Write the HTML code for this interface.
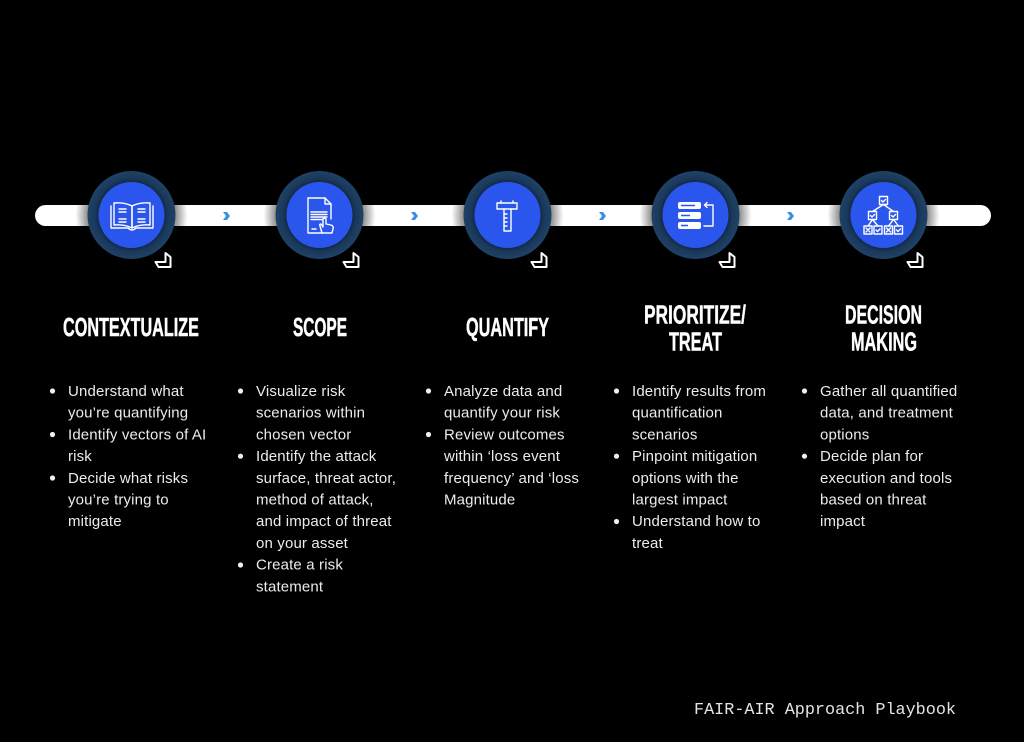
<!DOCTYPE html>
<html><head><meta charset="utf-8"><style>
html,body{margin:0;padding:0;background:#000;}
svg{display:block;}
.h{font-family:"Liberation Sans Narrow","Liberation Sans","DejaVu Sans Condensed",sans-serif;font-weight:bold;font-size:26px;fill:#fff;stroke:#fff;stroke-width:0.5;}
.b{font-family:"Liberation Sans","DejaVu Sans",sans-serif;font-size:15px;fill:#ececec;letter-spacing:0.15px;}
.f{font-family:"Liberation Mono","DejaVu Sans Mono",monospace;font-size:17px;fill:#e4e4e4;}
.ic{stroke:#fff;stroke-width:1.4;fill:none;stroke-linejoin:round;stroke-linecap:round;}
</style></head><body>
<svg width="1024" height="742" viewBox="0 0 1024 742" xmlns="http://www.w3.org/2000/svg">
<defs>
<radialGradient id="ring" cx="0.5" cy="0.5" r="0.5">
<stop offset="0.7" stop-color="#0e2139"/>
<stop offset="0.84" stop-color="#1a395b"/>
<stop offset="1" stop-color="#1f4267"/>
</radialGradient>
<radialGradient id="sh" cx="0.5" cy="0.5" r="0.5">
<stop offset="0.78" stop-color="#000" stop-opacity="0.45"/>
<stop offset="1" stop-color="#000" stop-opacity="0"/>
</radialGradient>
<g id="node">
<circle r="56" fill="url(#sh)"/>
<circle r="44" fill="url(#ring)"/>
<circle r="33" fill="#2b56ee"/>
<polygon points="34,38 39,42 39,52 27,52 24,47 34,47" fill="#000" stroke="#fff" stroke-width="2" stroke-linejoin="round"/>
</g>
<polygon id="chev" points="-3,-4 1,-4 4,0 1,4 -3,4 0,0" fill="#3d8fe2"/>
</defs>
<rect width="1024" height="742" fill="#000"/>
<rect x="35" y="205" width="956" height="21" rx="10.5" fill="#fff"/>
<use href="#chev" x="226" y="216"/>
<use href="#chev" x="414" y="216"/>
<use href="#chev" x="602" y="216"/>
<use href="#chev" x="790" y="216"/>
<use href="#node" x="131.5" y="215"/>
<use href="#node" x="319.5" y="215"/>
<use href="#node" x="507.5" y="215"/>
<use href="#node" x="695.5" y="215"/>
<use href="#node" x="883.5" y="215"/>

<!-- book -->
<g class="ic">
<path d="M111,206 L111,228 L128,228 Q132,232 136,228 L153,228 L153,206"/>
<path d="M114,203 L114,225 Q124,224 132,228 L132,206 Q124,202 114,203 Z"/>
<path d="M150,203 L150,225 Q140,224 132,228 L132,206 Q140,202 150,203 Z"/>
<path d="M119,209 L126,209 M119,212 L126,212 M119,219 L126,219 M119,222 L126,222"/>
<path d="M138,209 L145,209 M138,212 L145,212 M138,219 L145,219 M138,222 L145,222"/>
</g>
<!-- document -->
<g class="ic">
<path d="M308,198 L325,198 L331,204 L331,219 M322,233 L308,233 Z M308,198 L308,233"/>
<path d="M325,198 L325,204 L331,204"/>
<path d="M311,212 L327,212 M311,214.5 L327,214.5 M311,217 L327,217 M311,219.5 L322,219.5"/>
<path d="M312,229 L316,229"/>
<path d="M322,233 L320,226 Q319,224 321,224 L323,227 L323,219 Q325,217 326,219 L326,224 L331,225 Q334,226 333,229 L332,233 Z"/>
</g>
<!-- caliper -->
<g class="ic">
<path d="M497,203 L517,203 L517,209 L497,209 Z"/>
<path d="M501,201 L501,203 M513,201 L513,203"/>
<path d="M504,209 L504,231 L511,231 L511,209"/>
<path d="M504,214 L507,214 M504,218 L507,218 M504,222 L507,222 M504,226 L507,226"/>
</g>
<!-- list -->
<g>
<rect x="678" y="202" width="23" height="7" rx="2" fill="#fff"/>
<rect x="678" y="212" width="23" height="7" rx="2" fill="#fff"/>
<rect x="678" y="222" width="23" height="7" rx="2" fill="#fff"/>
<path d="M681,205.5 L695,205.5 M681,215.5 L690,215.5 M681,225.5 L688,225.5" stroke="#2b56ee" stroke-width="1.5"/>
<path class="ic" d="M705,205 L713,205 L713,226 L704,226"/>
<path class="ic" d="M707,202.5 L704.5,205 L707,207.5"/>
</g>
<!-- hierarchy -->
<g class="ic" stroke-width="1.2">
<rect x="879.5" y="196.5" width="8" height="8"/>
<rect x="868.5" y="211.5" width="8" height="8"/>
<rect x="889.5" y="211.5" width="8" height="8"/>
<rect x="864" y="226" width="8" height="8"/>
<rect x="874" y="226" width="8" height="8"/>
<rect x="884.5" y="226" width="8" height="8"/>
<rect x="894.5" y="226" width="8" height="8"/>
<path d="M883.5,204.5 L872.5,211.5 M883.5,204.5 L893.5,211.5 M872.5,219.5 L868,226 M872.5,219.5 L878,226 M893.5,219.5 L888.5,226 M893.5,219.5 L898.5,226"/>
<path d="M881.5,200.5 L883,202 L885.5,199.5 M870.5,215.5 L872,217 L874.5,214.5 M891.5,215.5 L893,217 L895.5,214.5 M876,230 L877.5,231.5 L880,229 M896.5,230 L898,231.5 L900.5,229"/>
<path d="M866,228 L870,232 M870,228 L866,232 M886.5,228 L890.5,232 M890.5,228 L886.5,232"/>
</g>

<!-- headings -->
<text class="h" x="63" y="336" textLength="136" lengthAdjust="spacingAndGlyphs">CONTEXTUALIZE</text>
<text class="h" x="293" y="336" textLength="54" lengthAdjust="spacingAndGlyphs">SCOPE</text>
<text class="h" x="466" y="336" textLength="83" lengthAdjust="spacingAndGlyphs">QUANTIFY</text>
<text class="h" x="644" y="323.5" textLength="102" lengthAdjust="spacingAndGlyphs">PRIORITIZE/</text>
<text class="h" x="669" y="350.5" textLength="53" lengthAdjust="spacingAndGlyphs">TREAT</text>
<text class="h" x="845" y="323.5" textLength="77" lengthAdjust="spacingAndGlyphs">DECISION</text>
<text class="h" x="851" y="350.5" textLength="66" lengthAdjust="spacingAndGlyphs">MAKING</text>

<!-- bullets -->
<g fill="#f0f0f0">
<circle cx="52.5" cy="391" r="2.6"/><circle cx="52.5" cy="434.5" r="2.6"/><circle cx="52.5" cy="478" r="2.6"/>
<circle cx="240.5" cy="391" r="2.6"/><circle cx="240.5" cy="456.2" r="2.6"/><circle cx="240.5" cy="565" r="2.6"/>
<circle cx="428.5" cy="391" r="2.6"/><circle cx="428.5" cy="434.5" r="2.6"/>
<circle cx="616.5" cy="391" r="2.6"/><circle cx="616.5" cy="456.2" r="2.6"/><circle cx="616.5" cy="521.5" r="2.6"/>
<circle cx="804.5" cy="391" r="2.6"/><circle cx="804.5" cy="456.2" r="2.6"/>
</g>

<g class="b">
<text x="68" y="396">Understand what</text>
<text x="68" y="417.7">you’re quantifying</text>
<text x="68" y="439.4">Identify vectors of AI</text>
<text x="68" y="461.1">risk</text>
<text x="68" y="482.8">Decide what risks</text>
<text x="68" y="504.5">you’re trying to</text>
<text x="68" y="526.2">mitigate</text>

<text x="256" y="396">Visualize risk</text>
<text x="256" y="417.7">scenarios within</text>
<text x="256" y="439.4">chosen vector</text>
<text x="256" y="461.1">Identify the attack</text>
<text x="256" y="482.8">surface, threat actor,</text>
<text x="256" y="504.5">method of attack,</text>
<text x="256" y="526.2">and impact of threat</text>
<text x="256" y="547.9">on your asset</text>
<text x="256" y="569.6">Create a risk</text>
<text x="256" y="591.3">statement</text>

<text x="444" y="396">Analyze data and</text>
<text x="444" y="417.7">quantify your risk</text>
<text x="444" y="439.4">Review outcomes</text>
<text x="444" y="461.1">within ‘loss event</text>
<text x="444" y="482.8">frequency’ and ‘loss</text>
<text x="444" y="504.5">Magnitude</text>

<text x="632" y="396">Identify results from</text>
<text x="632" y="417.7">quantification</text>
<text x="632" y="439.4">scenarios</text>
<text x="632" y="461.1">Pinpoint mitigation</text>
<text x="632" y="482.8">options with the</text>
<text x="632" y="504.5">largest impact</text>
<text x="632" y="526.2">Understand how to</text>
<text x="632" y="547.9">treat</text>

<text x="820" y="396">Gather all quantified</text>
<text x="820" y="417.7">data, and treatment</text>
<text x="820" y="439.4">options</text>
<text x="820" y="461.1">Decide plan for</text>
<text x="820" y="482.8">execution and tools</text>
<text x="820" y="504.5">based on threat</text>
<text x="820" y="526.2">impact</text>
</g>

<text class="f" x="694" y="714" textLength="262" lengthAdjust="spacingAndGlyphs">FAIR-AIR Approach Playbook</text>
</svg>
</body></html>
